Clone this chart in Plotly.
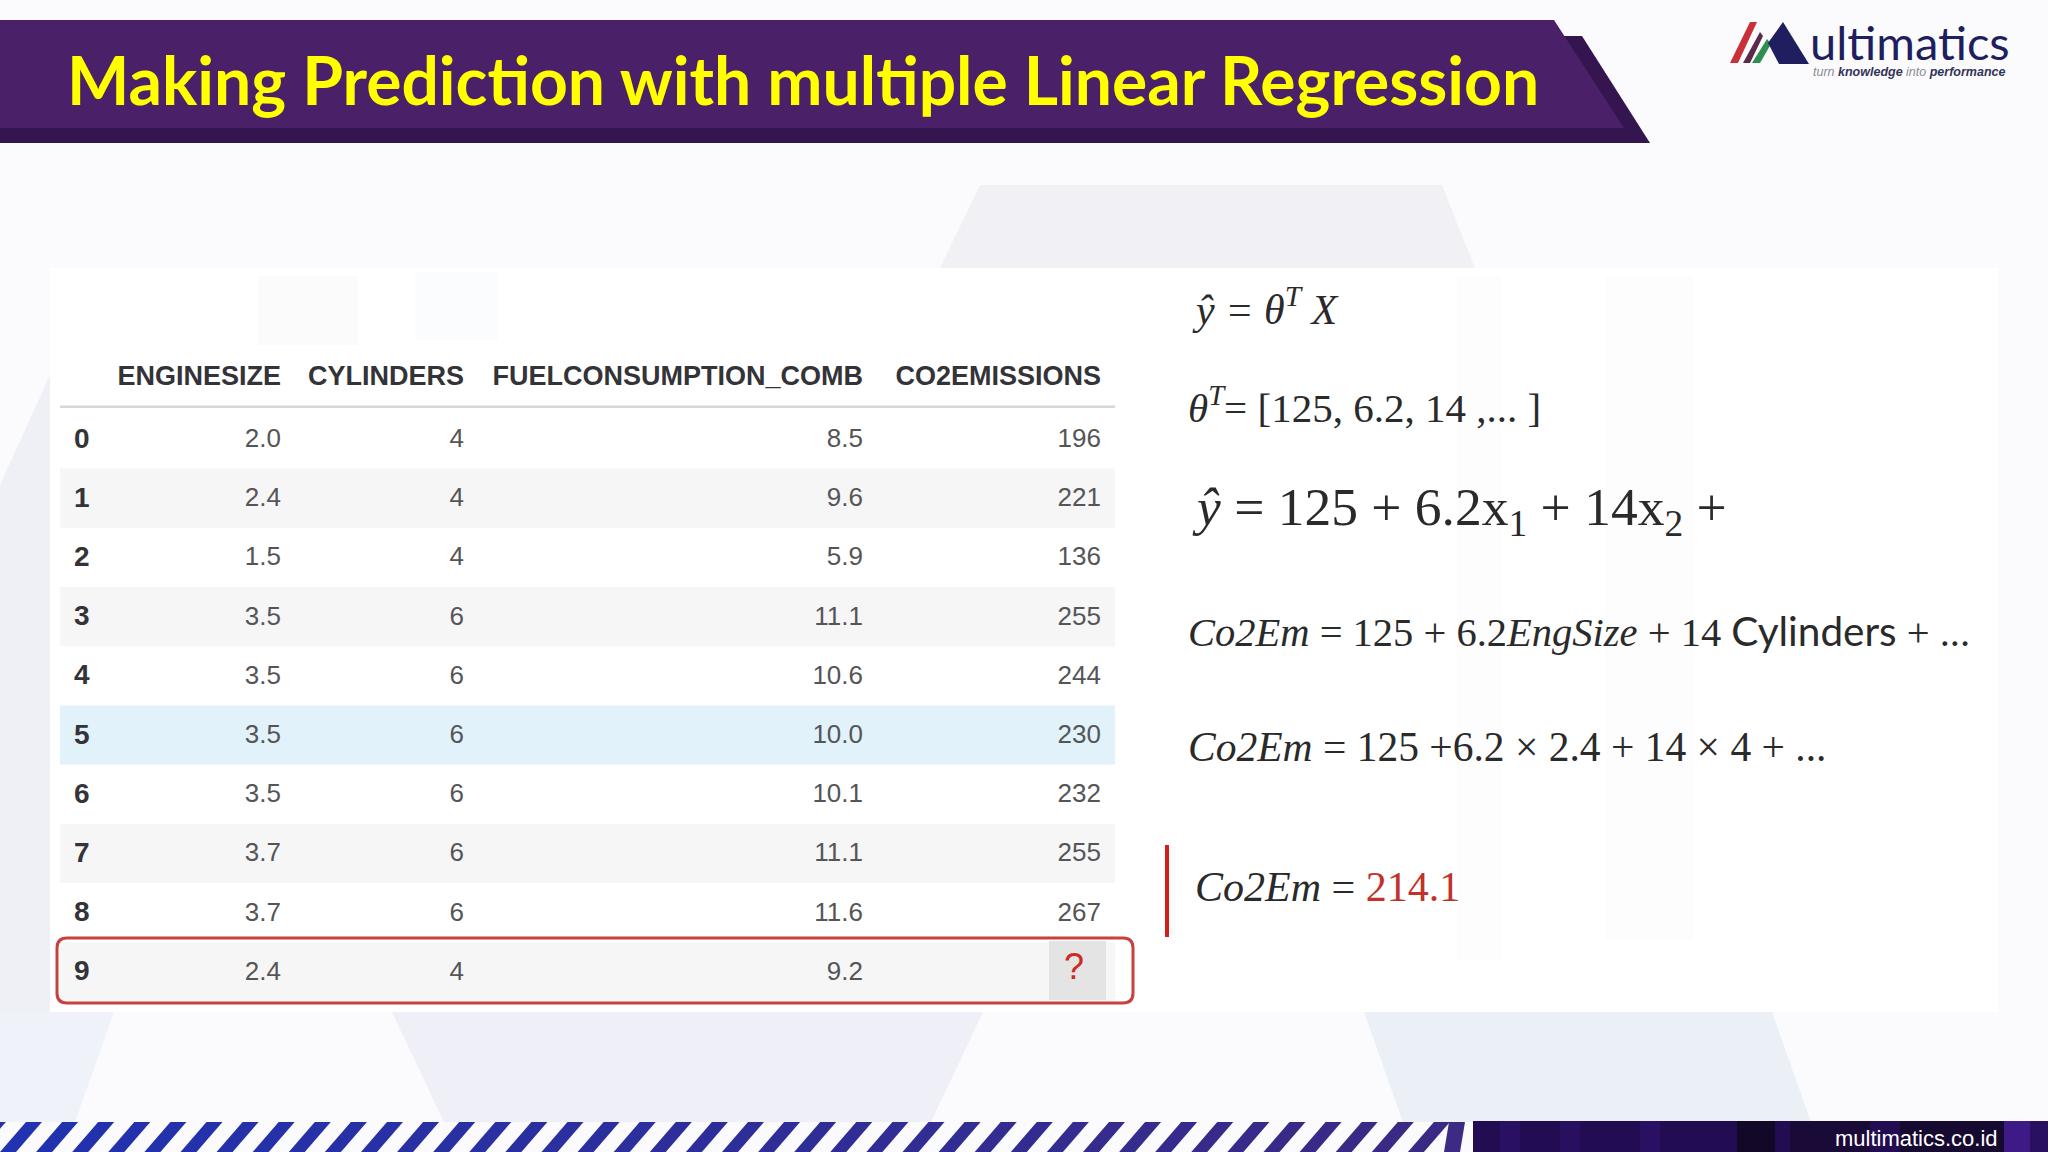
import plotly.graph_objects as go

# table values
row_index = [0, 1, 2, 3, 4, 5, 6, 7, 8, 9]
engine_size = [2.0, 2.4, 1.5, 3.5, 3.5, 3.5, 3.5, 3.7, 3.7, 2.4]
cylinders = [4, 4, 4, 6, 6, 6, 6, 6, 6, 4]
fuel_comb = [8.5, 9.6, 5.9, 11.1, 10.6, 10.0, 10.1, 11.1, 11.6, 9.2]
co2_emissions = [196, 221, 136, 255, 244, 230, 232, 255, 267]
unknown_co2 = "?"
column_names = ["ENGINESIZE", "CYLINDERS", "FUELCONSUMPTION_COMB", "CO2EMISSIONS"]

title_text = "Making Prediction with multiple Linear Regression"
footer_text = "multimatics.co.id"

SANS = "Liberation Sans"
SERIF = "Liberation Serif"
W, H = 2048, 1152
ROW0, ROW_H = 439, 59.2
row_y = [ROW0 + i * ROW_H for i in row_index]
text_y = [y + 1.5 for y in row_y]

shapes = []


def poly(points, color, layer="below"):
    path = "M " + " L ".join(f"{x},{y}" for x, y in points) + " Z"
    shapes.append(dict(type="path", path=path, fillcolor=color, line_width=0, layer=layer))


def box(x0, y0, x1, y1, color, layer="below"):
    shapes.append(dict(type="rect", x0=x0, y0=y0, x1=x1, y1=y1, fillcolor=color,
                       line_width=0, layer=layer))


def round_box(x0, y0, x1, y1, r, color, width):
    path = (f"M {x0 + r},{y0} L {x1 - r},{y0} Q {x1},{y0} {x1},{y0 + r} L {x1},{y1 - r} "
            f"Q {x1},{y1} {x1 - r},{y1} L {x0 + r},{y1} Q {x0},{y1} {x0},{y1 - r} "
            f"L {x0},{y0 + r} Q {x0},{y0} {x0 + r},{y0} Z")
    shapes.append(dict(type="path", path=path, layer="below", fillcolor="rgba(0,0,0,0)",
                       line=dict(color=color, width=width)))


# faint background shapes
poly([(980, 185), (1442, 185), (1475, 268), (940, 268)], "#f1f1f5")
poly([(392, 1012), (983, 1012), (931, 1122), (444, 1122)], "#eeeff7")
poly([(0, 1012), (114, 1012), (75, 1122), (0, 1122)], "#f0f2fa")
poly([(1364, 1012), (1772, 1012), (1811, 1122), (1403, 1122)], "#eaf0f6")
poly([(0, 485), (50, 375), (50, 1012), (0, 1012)], "#eff0f6")

# white panel and its ghost marks
box(50, 268, 1998, 1012, "#ffffff")
box(258, 276, 358, 345, "#fbfbfc")
box(415, 272, 498, 340, "#fbfcfd")
box(1457, 276, 1501, 960, "#fdfdfe")
box(1605, 276, 1693, 940, "#fdfdfe")

# title banner
poly([(0, 36), (1582, 36), (1650, 143), (0, 143)], "#35154f")
poly([(0, 20), (1554, 20), (1624, 128), (0, 128)], "#4a2069")

# logo
poly([(1730, 63), (1738, 63), (1757, 22), (1750, 22)], "#c8303a")
poly([(1743, 63), (1750, 63), (1763, 36), (1760, 32)], "#5a2a4a")
poly([(1752, 63), (1760, 63), (1771, 44), (1767, 39)], "#2f8f4e")
poly([(1768, 43), (1783, 22), (1809, 64), (1779, 64)], "#1f1f5f")

# table bands
for i in [1, 3, 7, 9]:
    box(60, row_y[i] - ROW_H / 2, 1115, row_y[i] + ROW_H / 2, "#f6f6f7")
box(60, row_y[5] - ROW_H / 2, 1115, row_y[5] + ROW_H / 2, "#e1f2fb")
box(60, 405.5, 1115, 408, "#d6d6d8")
box(1049, 941, 1106, 1000, "#e4e4e4")
round_box(57, 938, 1133, 1003, 10, "#c8413f", 3)
box(1169, 847, 1175, 935, "#fafafa")
box(1165, 845, 1169, 937, "#d0201c")

# hatched footer, blue drifting to violet
for k in range(-1, 41):
    t = max(k, 0) / 40
    color = "#%02x%02x%02x" % (int(33 + t * 27), int(51 - t * 9), int(176 - t * 45))
    x = k * 36.1
    right = min(x + 42, 1465)
    poly([(x, 1152), (x + 16, 1152), (right, 1122), (right - 16, 1122)], color)

# footer bar with purple streaks
box(1473, 1121, W, H, "#230d52")
for x0, x1, c in [(1500, 1520, "#2a1062"), (1560, 1580, "#290f60"), (1640, 1660, "#2a1062"),
                  (1737, 1775, "#130828"), (1790, 1870, "#1a0a38"), (1900, 2004, "#170a30"),
                  (2004, 2030, "#3d1a85"), (2030, 2048, "#2a1060")]:
    box(x0, 1121, x1, H, c)

fig = go.Figure()

# table columns
col_right = [281, 464, 863, 1101]
col_text = [
    [f"{v:.1f}" for v in engine_size],
    [str(v) for v in cylinders],
    [f"{v:.1f}" for v in fuel_comb],
    [str(v) for v in co2_emissions],
]
for x, name, texts in zip(col_right, column_names, col_text):
    fig.add_trace(go.Scatter(
        x=[x], y=[378], mode="text", text=[f"<b>{name}</b>"], textposition="middle left",
        textfont=dict(family=SANS, size=27, color="#333338"),
        hoverinfo="skip", showlegend=False))
    fig.add_trace(go.Scatter(
        x=[x] * len(texts), y=text_y[:len(texts)], mode="text", text=texts,
        textposition="middle left",
        textfont=dict(family=SANS, size=26, color="#555558"),
        hoverinfo="skip", showlegend=False))
fig.add_trace(go.Scatter(
    x=[74] * len(row_index), y=text_y, mode="text",
    text=[f"<b>{i}</b>" for i in row_index], textposition="middle right",
    textfont=dict(family=SANS, size=28, color="#333338"),
    hoverinfo="skip", showlegend=False))
fig.add_trace(go.Scatter(
    x=[1074], y=[970], mode="text", text=[unknown_co2], textposition="middle center",
    textfont=dict(family=SANS, size=36, color="#cc2a22"),
    hoverinfo="skip", showlegend=False))


def note(x, y, text, size, color="#2a2a2a", family=SERIF, anchor="left"):
    fig.add_annotation(x=x, y=y, text=text, showarrow=False, xanchor=anchor, yanchor="middle",
                       font=dict(family=family, size=size, color=color), xref="x", yref="y")


plain = '<span style="font-family:Lato">%s</span>'
grey = '<span style="color:#8a8a98;font-weight:normal">%s</span>'
note(65, 79, f"<b>{title_text}</b>", 66, "#ffff00", "Lato")
note(1808, 42, "ultimatics", 47, "#1f1f5f", "Lato")
note(2007, 72, "<i><b>" + grey % "turn" + " knowledge " + grey % "into" + " performance</b></i>",
     12.5, "#333355", SANS, "right")

note(1190, 306, "<i>ŷ = θ<sup>T</sup> X</i>", 42)
note(1186, 405, "<i>θ<sup>T</sup></i>= [125, 6.2, 14 ,... ]", 41)
note(1190, 510, "<i>ŷ</i> = 125 + 6.2x<sub>1</sub> + 14x<sub>2</sub> +", 53.5)
note(1186, 630, "<i>Co2Em</i> = 125 + 6.2<i>EngSize</i> + 14 " + plain % "Cylinders" + " + ...", 40.5)
note(1186, 747, "<i>Co2Em</i> = 125 +6.2 × 2.4 + 14 × 4 + ...", 41.5)
note(1193, 887, '<i>Co2Em</i> = <span style="color:#c0322a">214.1</span>', 42)
note(2000, 1138, footer_text, 22, "#ffffff", SANS, "right")

fig.update_layout(
    width=W, height=H,
    margin=dict(l=0, r=0, t=0, b=0),
    paper_bgcolor="#fbfbfd",
    plot_bgcolor="#fbfbfd",
    xaxis=dict(range=[0, W], visible=False, fixedrange=True),
    yaxis=dict(range=[H, 0], visible=False, fixedrange=True),
    shapes=shapes,
    showlegend=False,
)

fig.write_html("out.html", config=dict(displayModeBar=False),
               post_script="document.body.style.margin='0';")
